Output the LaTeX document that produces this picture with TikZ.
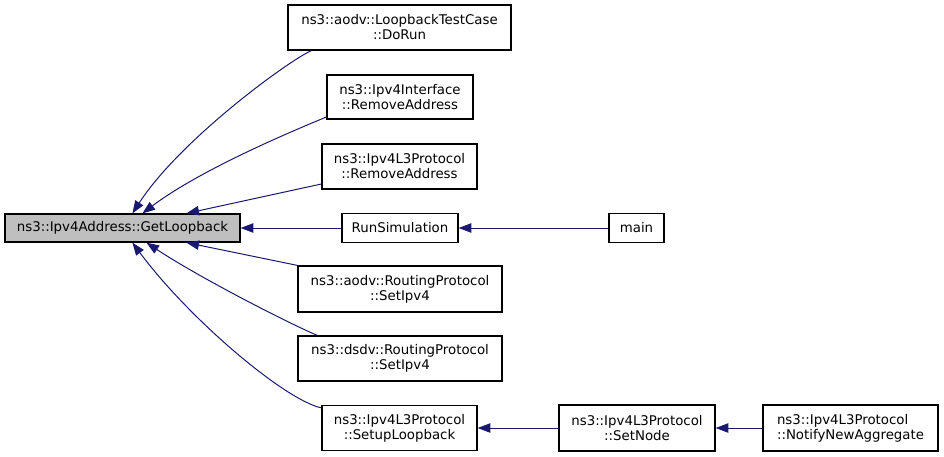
\documentclass[tikz,border=0pt]{standalone}
\usepackage{fontspec}
\setmainfont{DejaVu Sans}
\usetikzlibrary{arrows.meta,calc}
\definecolor{edgeblue}{HTML}{191970}
\definecolor{maingray}{HTML}{BFBFBF}
\begin{document}
\begin{tikzpicture}[x=0.75pt,y=-0.75pt,
  fn/.style={draw=black,line width=0.9pt,fill=white,inner sep=0pt,align=center,
    font=\fontsize{10}{11.25}\selectfont},
  edge/.style={draw=edgeblue,line width=0.75pt,-{Triangle[length=9.5pt,width=7pt]}}]
\useasboundingbox (0,0) rectangle (944,456);
\node[fn,fill=maingray,minimum width=235*0.75pt,minimum height=28*0.75pt] (main) at (122.5,228) {ns3::Ipv4Address::GetLoopback};
\node[fn,minimum width=223*0.75pt,minimum height=45*0.75pt] (dorun) at (399.5,27.5) {ns3::aodv::LoopbackTestCase\\::DoRun};
\node[fn,minimum width=146*0.75pt,minimum height=44*0.75pt] (iface) at (400,97) {ns3::Ipv4Interface\\::RemoveAddress};
\node[fn,minimum width=155*0.75pt,minimum height=45*0.75pt] (l3rem) at (399.5,166.5) {ns3::Ipv4L3Protocol\\::RemoveAddress};
\node[fn,minimum width=116*0.75pt,minimum height=29*0.75pt] (runsim) at (400,228) {RunSimulation};
\node[fn,minimum width=55*0.75pt,minimum height=29*0.75pt] (mainfn) at (636.5,228) {main};
\node[fn,minimum width=204*0.75pt,minimum height=46*0.75pt] (aodvset) at (400,289) {ns3::aodv::RoutingProtocol\\::SetIpv4};
\node[fn,minimum width=204*0.75pt,minimum height=45*0.75pt] (dsdvset) at (400,358.5) {ns3::dsdv::RoutingProtocol\\::SetIpv4};
\node[fn,minimum width=155*0.75pt,minimum height=45*0.75pt] (setuplb) at (399.5,428) {ns3::Ipv4L3Protocol\\::SetupLoopback};
\node[fn,minimum width=156*0.75pt,minimum height=46*0.75pt] (setnode) at (637,428) {ns3::Ipv4L3Protocol\\::SetNode};
\node[fn,align=left,minimum width=175*0.75pt,minimum height=46*0.75pt] (notify) at (850.5,428) {ns3::Ipv4L3Protocol\\::NotifyNewAggregate};

\draw[edge] ($(dorun.south west)+(24,0)$) .. controls (288,61) and (180,140) .. ($(main.north west)+(128,0)$);
\draw[edge] ($(iface.west)+(0,20)$) .. controls (290,132) and (200,170) .. ($(main.north west)+(138,0)$);
\draw[edge] ($(l3rem.west)+(0,17.5)$) -- ($(main.north west)+(182,0)$);
\draw[edge] (runsim.west) -- (main.east);
\draw[edge] (aodvset.north west) -- ($(main.south west)+(182,0)$);
\draw[edge] ($(dsdvset.north west)+(20,0)$) .. controls (290,324) and (200,278) .. ($(main.south west)+(142,0)$);
\draw[edge] ($(setuplb.north west)+(0,3)$) .. controls (285,400) and (190,320) .. ($(main.south west)+(128,0)$);
\draw[edge] (mainfn.west) -- (runsim.east);
\draw[edge] (setnode.west) -- (setuplb.east);
\draw[edge] (notify.west) -- (setnode.east);
\end{tikzpicture}
\end{document}
